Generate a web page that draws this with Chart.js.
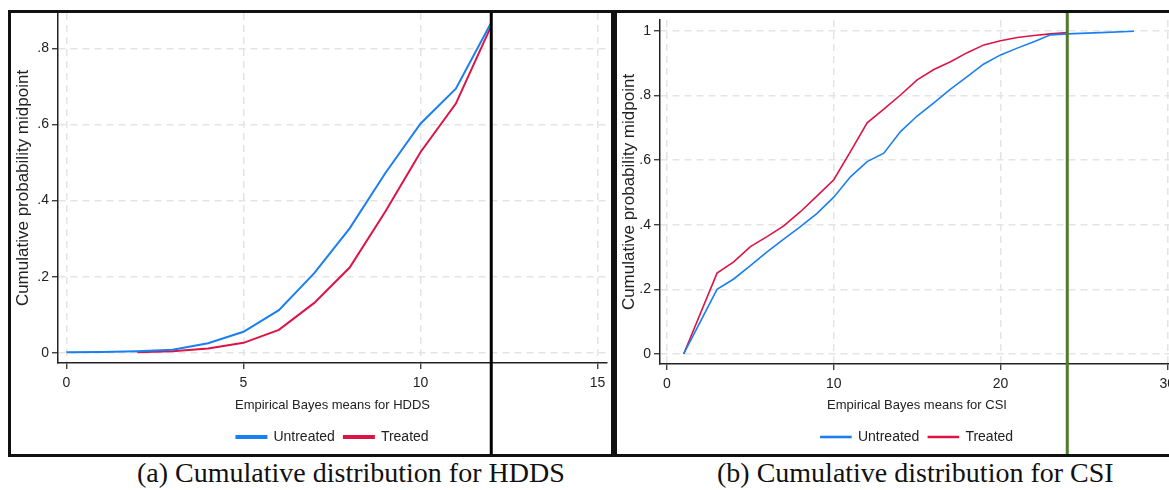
<!DOCTYPE html>
<html>
<head>
<meta charset="utf-8">
<script src="https://cdn.jsdelivr.net/npm/chart.js@4/dist/chart.umd.min.js"></script>
<style>
  body { margin: 0; background: #fff; width: 1169px; height: 490px; overflow: hidden; position: relative; }
  .box { position: absolute; border: 3px solid #111; background: #fff; }
  .box canvas { display: block; }
  .cap { position: absolute; top: 457px; font-family: "Liberation Serif", "Times New Roman", serif; font-size: 28px; color: #111; white-space: nowrap; }
</style>
</head>
<body>
<div class="box" style="left:8px; top:10px; width:600px; height:441px;"><canvas id="hdds"></canvas></div>
<div class="box" style="left:614px; top:10px; width:570px; height:441px;"><canvas id="csi"></canvas></div>
<div class="cap" style="left:137px;">(a) Cumulative distribution for HDDS</div>
<div class="cap" style="left:717px;">(b) Cumulative distribution for CSI</div>
<script>
// ===== Datos =====
// (a) HDDS
const hddsUntreatedX = [0, 1, 2, 3, 4, 5, 6, 7, 8, 9, 10, 11, 12];
const hddsUntreatedY = [0.001, 0.002, 0.004, 0.008, 0.025, 0.055, 0.112, 0.209, 0.327, 0.471, 0.602, 0.694, 0.868];
const hddsTreatedX = [2, 3, 4, 5, 6, 7, 8, 9, 10, 11, 12];
const hddsTreatedY = [0.001, 0.004, 0.011, 0.026, 0.06, 0.131, 0.224, 0.37, 0.527, 0.655, 0.859];
const hddsXTicks = [0, 5, 10, 15];
const hddsYTicks = [0, 0.2, 0.4, 0.6, 0.8];
const hddsYLabels = ["0", ".2", ".4", ".6", ".8"];
const hddsCutoff = 12;

// (b) CSI
const csiUntreatedX = [1, 3, 4, 5, 6, 7, 8, 9, 10, 11, 12, 13, 14, 15, 16, 17, 18, 19, 20, 21, 22, 23, 24, 26, 28];
const csiUntreatedY = [0, 0.2, 0.232, 0.273, 0.316, 0.355, 0.394, 0.435, 0.485, 0.548, 0.595, 0.621, 0.688, 0.736, 0.777, 0.819, 0.858, 0.897, 0.925, 0.946, 0.966, 0.987, 0.99, 0.994, 0.998];
const csiTreatedX = [1, 3, 4, 5, 6, 7, 8, 9, 10, 11, 12, 13, 14, 15, 16, 17, 18, 19, 20, 21, 22, 23, 24];
const csiTreatedY = [0, 0.25, 0.285, 0.332, 0.363, 0.396, 0.44, 0.489, 0.539, 0.626, 0.715, 0.757, 0.801, 0.848, 0.88, 0.904, 0.932, 0.956, 0.969, 0.979, 0.985, 0.99, 0.994];
const csiXTicks = [0, 10, 20, 30];
const csiYTicks = [0, 0.2, 0.4, 0.6, 0.8, 1];
const csiYLabels = ["0", ".2", ".4", ".6", ".8", "1"];
const csiCutoff = 24;

const seriesNames = ["Untreated", "Treated"];
const BLUE = "#1a7ff0";
const RED = "#dc1446";
const FONT = "'Liberation Sans', Arial, sans-serif";

function pares(xs, ys) {
  return xs.map((x, i) => ({ x: x, y: ys[i] }));
}

// linea vertical de corte, de arriba a abajo del recuadro
const lineaCorte = {
  id: "lineaCorte",
  afterDatasetsDraw(chart, args, opts) {
    const x = chart.scales.x.getPixelForValue(opts.value);
    const ctx = chart.ctx;
    ctx.save();
    ctx.strokeStyle = opts.color;
    ctx.lineWidth = opts.width;
    ctx.beginPath();
    ctx.moveTo(x, 0);
    ctx.lineTo(x, chart.height);
    ctx.stroke();
    ctx.restore();
  },
};

function crearGrafico(id, c) {
  const canvas = document.getElementById(id);
  canvas.width = c.w;
  canvas.height = c.h;
  canvas.style.width = c.w + "px";
  canvas.style.height = c.h + "px";
  return new Chart(canvas.getContext("2d"), {
    type: "line",
    data: {
      datasets: [
        { label: seriesNames[0], data: pares(c.ux, c.uy), borderColor: BLUE, backgroundColor: BLUE, borderWidth: c.lw, pointRadius: 0, tension: 0 },
        { label: seriesNames[1], data: pares(c.tx, c.ty), borderColor: RED, backgroundColor: RED, borderWidth: c.lw, pointRadius: 0, tension: 0 },
      ],
    },
    options: {
      responsive: false,
      animation: false,
      layout: { padding: { left: 0, right: c.padRight, top: c.padTop, bottom: 0 } },
      plugins: {
        legend: {
          position: "bottom",
          fullSize: false,
          labels: { font: { family: FONT, size: 14 }, color: "#222", boxWidth: 30, boxHeight: c.legendLine, padding: 9 },
        },
        tooltip: { enabled: false },
        lineaCorte: { value: c.cutoff, color: c.cutColor, width: 3 },
      },
      scales: {
        x: {
          type: "linear",
          min: c.xmin,
          max: c.xmax,
          afterBuildTicks: (ax) => { ax.ticks = c.xticks.map((v) => ({ value: v })); },
          afterFit: (ax) => { ax.height = c.xh; ax.paddingLeft = 0; ax.paddingRight = 0; },
          ticks: { font: { family: FONT, size: 14 }, color: "#222", padding: 6, maxRotation: 0 },
          grid: { color: "#e4e4e4", lineWidth: 1.5, tickColor: "#222", tickLength: 6, tickWidth: 1.2 },
          border: { color: "#222", width: 1.5, dash: [7, 5] },
          title: { display: true, text: c.xtitle, font: { family: FONT, size: 13 }, color: "#222", padding: { top: 4, bottom: 8 } },
        },
        y: {
          type: "linear",
          min: c.ymin,
          max: c.ymax,
          afterBuildTicks: (ax) => { ax.ticks = c.yticks.map((v) => ({ value: v })); },
          afterFit: (ax) => { ax.width = c.yw; ax.paddingTop = 0; ax.paddingBottom = 0; },
          ticks: { font: { family: FONT, size: 14 }, color: "#222", padding: 3, callback: (v, i) => c.ylabels[i] },
          grid: { color: "#e4e4e4", lineWidth: 1.5, tickColor: "#222", tickLength: 6, tickWidth: 1.2 },
          border: { color: "#222", width: 1.5, dash: [7, 5] },
          title: { display: true, text: "Cumulative probability midpoint", font: { family: FONT, size: 17 }, color: "#222", padding: { top: 2, bottom: 0 } },
        },
      },
    },
    plugins: [lineaCorte],
  });
}

crearGrafico("hdds", {
  w: 600, h: 441, padTop: 0, padRight: 4, yw: 47, xh: 58, lw: 2, legendLine: 2,
  ux: hddsUntreatedX, uy: hddsUntreatedY, tx: hddsTreatedX, ty: hddsTreatedY,
  xmin: -0.24, xmax: 15.27, ymin: -0.027, ymax: 0.893,
  xticks: hddsXTicks, yticks: hddsYTicks, ylabels: hddsYLabels,
  xtitle: "Empirical Bayes means for HDDS",
  cutoff: hddsCutoff, cutColor: "#000",
});

crearGrafico("csi", {
  w: 570, h: 441, padTop: 7, padRight: 13, yw: 43, xh: 57, lw: 1.6, legendLine: 1,
  ux: csiUntreatedX, uy: csiUntreatedY, tx: csiTreatedX, ty: csiTreatedY,
  xmin: -0.42, xmax: 30.4, ymin: -0.031, ymax: 1.033,
  xticks: csiXTicks, yticks: csiYTicks, ylabels: csiYLabels,
  xtitle: "Empirical Bayes means for CSI",
  cutoff: csiCutoff, cutColor: "#4e7b2c",
});
</script>
</body>
</html>
